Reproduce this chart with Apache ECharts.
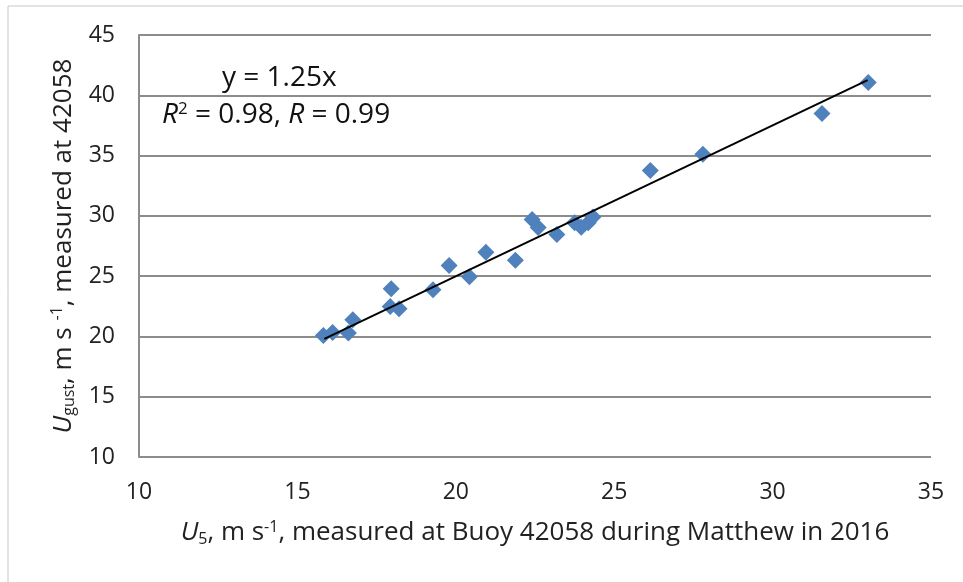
<!DOCTYPE html>
<html>
<head>
<meta charset="utf-8">
<title>Gust vs U5, Buoy 42058</title>
<script src="https://cdn.jsdelivr.net/npm/echarts@6/dist/echarts.min.js"></script>
<style>
  html, body { margin: 0; padding: 0; background: #fff; }
  #main { width: 963px; height: 582px; }
</style>
</head>
<body>
<div id="main"></div>
<script>
// measured U5 (x) and Ugust (y), m s-1
var u5 = [15.82, 16.11, 16.61, 16.75, 17.96, 17.93, 18.21, 19.28, 19.79, 20.43, 20.95, 21.88,
          22.41, 22.60, 23.19, 23.75, 23.96, 24.18, 24.33, 26.14, 27.80, 31.56, 33.02];
var ugust = [20.08, 20.33, 20.28, 21.39, 23.96, 22.49, 22.30, 23.88, 25.88, 24.94, 26.98, 26.32,
             29.70, 29.04, 28.45, 29.43, 29.06, 29.43, 29.90, 33.77, 35.10, 38.49, 41.06];
// fitted line end points (y = 1.25x)
var trendX = [15.85, 33.0];
var trendY = [19.8, 41.25];
var xTicks = [10, 35, 5];   // min, max, step
var yTicks = [10, 45, 5];

var font = "'Open Sans', 'Liberation Sans', sans-serif";

var pts = u5.map(function (x, i) { return [x, ugust[i]]; });
var line = trendX.map(function (x, i) { return [x, trendY[i]]; });

// rich styles for the axis titles
var titleRich = {
  i: { fontSize: 26, fontStyle: "italic", fontFamily: font, color: "#222" },
  t: { fontSize: 26, fontFamily: font, color: "#222" },
  sub: { fontSize: 16, fontFamily: font, color: "#222", verticalAlign: "bottom", padding: [12, 0, 0, 0] },
  sup: { fontSize: 16, fontFamily: font, color: "#222", verticalAlign: "top", padding: [0, 0, 12, 0] }
};

var chart = echarts.init(document.getElementById("main"));
var option = {
  animation: false,
  grid: { left: 139, right: 32, top: 35, bottom: 125, containLabel: false },
  xAxis: {
    type: "value",
    min: xTicks[0], max: xTicks[1], interval: xTicks[2],
    axisLine: { show: false },
    axisTick: { show: false },
    splitLine: { show: false },
    axisLabel: { color: "#222", fontSize: 23, fontFamily: font, margin: 24 },
    name: "{i|U}{sub|5}{t|, m s}{sup|-1}{t|, measured at Buoy 42058 during Matthew in 2016}",
    nameLocation: "middle",
    nameGap: 62,
    nameTextStyle: { rich: titleRich }
  },
  yAxis: {
    type: "value",
    min: yTicks[0], max: yTicks[1], interval: yTicks[2],
    axisLine: { show: true, lineStyle: { color: "#8c8c8c", width: 2 } },
    axisTick: { show: false },
    splitLine: { show: true, lineStyle: { color: "#8c8c8c", width: 2 } },
    axisLabel: { color: "#222", fontSize: 23, fontFamily: font, margin: 24 },
    name: "{i|U}{sub|gust}{t|, m s }{sup|-1}{t|, measured at 42058}",
    nameLocation: "middle",
    nameRotate: 90,
    nameGap: 57,
    nameTextStyle: { rich: titleRich }
  },
  graphic: [
    {
      type: "rect", silent: true,
      shape: { x: 8, y: 6, width: 1000, height: 600 },
      style: { fill: "none", stroke: "#c8c8c8", lineWidth: 1 }
    },
    {
      type: "text", left: 222, top: 64,
      style: { text: "y = 1.25x", font: "28px " + font, fill: "#111" }
    },
    {
      type: "text", left: 162, top: 101,
      style: {
        text: "{i|R}{sup|2}{t| = 0.98, }{i|R}{t| = 0.99}",
        rich: {
          i: { font: "italic 28px " + font, fill: "#111" },
          t: { font: "28px " + font, fill: "#111" },
          sup: { font: "17px " + font, fill: "#111", verticalAlign: "top", padding: [0, 0, 10, 0] }
        }
      }
    }
  ],
  series: [
    {
      type: "line",
      data: line,
      symbol: "none",
      lineStyle: { color: "#000", width: 2 },
      z: 3
    },
    {
      type: "scatter",
      data: pts,
      symbol: "diamond",
      symbolSize: [17, 17],
      itemStyle: { color: "#4f81bd", opacity: 1 },
      z: 2
    }
  ]
};
chart.setOption(option);
</script>
</body>
</html>
